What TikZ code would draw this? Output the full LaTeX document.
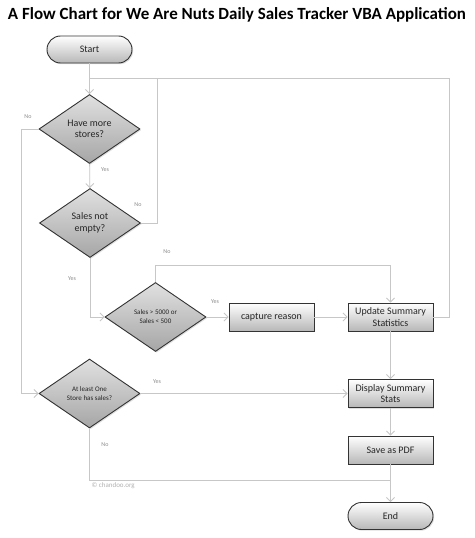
\documentclass[tikz,border=0pt]{standalone}
\usepackage{fontspec}
\usepackage{graphicx}
\setmainfont{Carlito}
\usetikzlibrary{shapes.geometric,arrows.meta,shadows}

\begin{document}
\begin{tikzpicture}[x=1pt, y=-1pt,
	flow/.style={draw=black!80, line width=0.9pt, top color=white, bottom color=black!28,
		drop shadow={opacity=0.25, shadow xshift=1.2pt, shadow yshift=-1.2pt},
		text=black!85, align=center, inner sep=0pt, font=\fontsize{10}{11.5}\selectfont},
	term/.style={flow, rectangle, rounded corners=13.5pt, minimum width=85pt, minimum height=27pt},
	proc/.style={flow, rectangle, minimum width=85pt, minimum height=28pt},
	dec/.style={flow, diamond, top color=black!12, bottom color=black!35, minimum width=101pt, minimum height=69pt},
	tiny/.style={font=\fontsize{7}{9}\selectfont},
	line/.style={draw=black!22, line width=0.9pt},
	arr/.style={line, -{Straight Barb[length=4pt, width=8pt]}},
	lbl/.style={font=\fontsize{6}{7}\selectfont, text=black!45}]

	\fill [white] (0,0) rectangle (474,538);
	\useasboundingbox (0,0) rectangle (474,538);

	\node (title) at (237,15) {\resizebox{458pt}{12pt}{\bfseries A Flow Chart for We Are Nuts Daily Sales Tracker VBA Application}};

	\node [term] (start) at (89.5,49.5) {Start};
	\node [dec] (more) at (89.5,129) {Have more\\stores?};
	\node [dec] (empty) at (90,223) {Sales not\\empty?};
	\node [dec, tiny] (range) at (155.5,317) {Sales > 5000 or\\Sales < 500};
	\node [proc] (reason) at (271.5,317) {capture reason};
	\node [proc] (update) at (390.5,317) {Update Summary\\Statistics};
	\node [dec, tiny] (any) at (89.5,393.5) {At least One\\Store has sales?};
	\node [proc] (display) at (390.5,393.5) {Display Summary\\Stats};
	\node [proc] (pdf) at (390.5,450) {Save as PDF};
	\node [term] (end) at (390.5,516) {End};

	\coordinate (loop) at (89.5,78);
	\coordinate (join) at (390.5,480);

	\draw [arr] (start) -- (more);
	\draw [arr] (more) -- (empty);
	\draw [line] (empty.east) -- ++(16,0) |- (loop);
	\draw [line] (update.east) -- ++(16,0) |- (loop);
	\draw [arr] (more.west) -- ++(-17,0) |- (any.west);
	\draw [arr] (empty.south) |- (range.west);
	\draw [arr] (range.north) -- ++(0,-17) -| (update.north);
	\draw [arr] (range) -- (reason);
	\draw [arr] (reason) -- (update);
	\draw [arr] (update) -- (display);
	\draw [arr] (any) -- (display);
	\draw [arr] (display) -- (pdf);
	\draw [line] (any.south) |- (join);
	\draw [arr] (pdf) -- (end);

	\node [lbl] (no1) at (28,117) {No};
	\node [lbl] (yes1) at (105,170) {Yes};
	\node [lbl] (no2) at (138,205) {No};
	\node [lbl] (yes2) at (72,279) {Yes};
	\node [lbl] (no3) at (167,252) {No};
	\node [lbl] (yes3) at (215,302) {Yes};
	\node [lbl] (yes4) at (157,382) {Yes};
	\node [lbl] (no4) at (105,445) {No};
	\node [lbl, anchor=west, text=black!30, font=\fontsize{7}{8}\selectfont] (credit) at (88,486) {© chandoo.org};

\end{tikzpicture}
\end{document}
